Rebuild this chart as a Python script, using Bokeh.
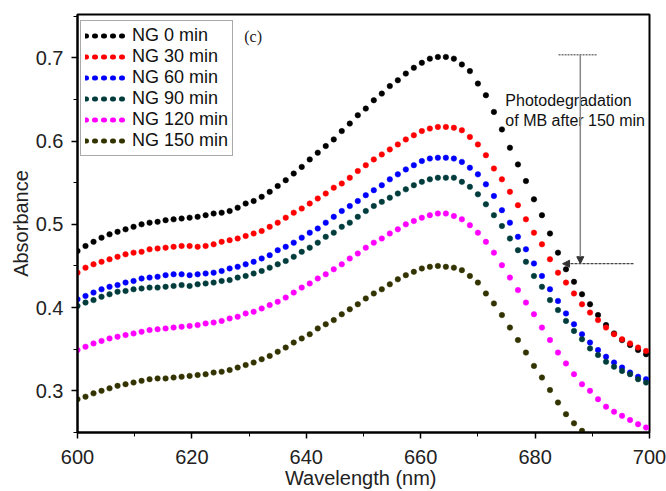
from bokeh.plotting import figure
from bokeh.models import Range1d, Legend, LegendItem, Label, Arrow, NormalHead, FixedTicker
from bokeh.embed import file_html
from bokeh.resources import INLINE

# ---------------- data ----------------
wavelength = [600.0, 601.4, 602.8, 604.2, 605.6, 607.0, 608.4, 609.8, 611.2, 612.6,
              614.0, 615.4, 616.8, 618.2, 619.6, 621.0, 622.4, 623.8, 625.2, 626.6,
              628.0, 629.4, 630.8, 632.2, 633.6, 635.0, 636.4, 637.8, 639.2, 640.6,
              642.0, 643.4, 644.8, 646.2, 647.6, 649.0, 650.4, 651.8, 653.2, 654.6,
              656.0, 657.4, 658.8, 660.2, 661.6, 663.0, 664.4, 665.8, 667.2, 668.6,
              670.0, 671.4, 672.8, 674.2, 675.6, 677.0, 678.4, 679.8, 681.2, 682.6,
              684.0, 685.4, 686.8, 688.2, 689.6, 691.0, 692.4, 693.8, 695.2, 696.6,
              698.0, 699.4]

ng_0 = [0.468, 0.474, 0.479, 0.484, 0.488, 0.491, 0.494, 0.497, 0.500, 0.502,
        0.503, 0.505, 0.506, 0.507, 0.508, 0.509, 0.511, 0.513, 0.514, 0.516,
        0.520, 0.525, 0.528, 0.533, 0.539, 0.546, 0.553, 0.561, 0.569, 0.578,
        0.586, 0.594, 0.602, 0.612, 0.621, 0.631, 0.639, 0.649, 0.657, 0.666,
        0.673, 0.681, 0.688, 0.694, 0.699, 0.701, 0.701, 0.699, 0.692, 0.684,
        0.669, 0.655, 0.635, 0.614, 0.592, 0.572, 0.552, 0.530, 0.511, 0.489,
        0.466, 0.446, 0.431, 0.416, 0.404, 0.391, 0.379, 0.369, 0.361, 0.355,
        0.349, 0.344]

ng_30 = [0.442, 0.448, 0.452, 0.455, 0.458, 0.461, 0.464, 0.466, 0.467, 0.470,
         0.471, 0.472, 0.473, 0.474, 0.474, 0.473, 0.474, 0.476, 0.479, 0.481,
         0.483, 0.486, 0.489, 0.492, 0.497, 0.502, 0.508, 0.514, 0.519, 0.525,
         0.531, 0.537, 0.544, 0.549, 0.556, 0.564, 0.571, 0.578, 0.584, 0.590,
         0.596, 0.602, 0.607, 0.612, 0.615, 0.617, 0.617, 0.616, 0.613, 0.605,
         0.596, 0.583, 0.567, 0.554, 0.539, 0.523, 0.506, 0.490, 0.476, 0.458,
         0.442, 0.430, 0.417, 0.404, 0.394, 0.385, 0.376, 0.368, 0.362, 0.357,
         0.352, 0.348]

ng_60 = [0.410, 0.414, 0.418, 0.422, 0.425, 0.427, 0.430, 0.432, 0.435, 0.436,
         0.437, 0.439, 0.440, 0.440, 0.439, 0.440, 0.441, 0.442, 0.444, 0.447,
         0.449, 0.452, 0.455, 0.459, 0.463, 0.469, 0.473, 0.478, 0.484, 0.490,
         0.495, 0.502, 0.509, 0.516, 0.522, 0.528, 0.535, 0.541, 0.547, 0.554,
         0.560, 0.566, 0.571, 0.576, 0.579, 0.580, 0.580, 0.579, 0.575, 0.568,
         0.560, 0.548, 0.534, 0.517, 0.502, 0.485, 0.470, 0.453, 0.438, 0.422,
         0.408, 0.393, 0.380, 0.368, 0.358, 0.349, 0.341, 0.334, 0.328, 0.322,
         0.317, 0.314]

ng_90 = [0.402, 0.406, 0.409, 0.413, 0.416, 0.419, 0.420, 0.422, 0.423, 0.424,
         0.424, 0.425, 0.426, 0.427, 0.426, 0.428, 0.429, 0.430, 0.432, 0.433,
         0.436, 0.438, 0.441, 0.444, 0.448, 0.452, 0.456, 0.461, 0.467, 0.472,
         0.478, 0.485, 0.490, 0.497, 0.502, 0.509, 0.516, 0.522, 0.527, 0.532,
         0.537, 0.542, 0.547, 0.551, 0.554, 0.556, 0.556, 0.556, 0.551, 0.545,
         0.536, 0.524, 0.511, 0.498, 0.483, 0.469, 0.455, 0.438, 0.425, 0.409,
         0.397, 0.384, 0.372, 0.362, 0.351, 0.343, 0.335, 0.329, 0.324, 0.320,
         0.314, 0.310]

ng_120 = [0.349, 0.353, 0.357, 0.360, 0.363, 0.365, 0.367, 0.369, 0.371, 0.373,
          0.374, 0.375, 0.376, 0.377, 0.378, 0.379, 0.381, 0.382, 0.384, 0.387,
          0.389, 0.393, 0.395, 0.399, 0.403, 0.407, 0.412, 0.418, 0.424, 0.429,
          0.435, 0.440, 0.446, 0.452, 0.459, 0.465, 0.472, 0.478, 0.483, 0.489,
          0.494, 0.500, 0.504, 0.508, 0.511, 0.513, 0.513, 0.510, 0.506, 0.499,
          0.490, 0.479, 0.466, 0.451, 0.436, 0.421, 0.406, 0.392, 0.376, 0.361,
          0.346, 0.333, 0.320, 0.308, 0.300, 0.290, 0.281, 0.275, 0.270, 0.265,
          0.260, 0.256]

ng_150 = [0.290, 0.293, 0.297, 0.300, 0.303, 0.306, 0.308, 0.310, 0.312, 0.314,
          0.315, 0.315, 0.316, 0.317, 0.318, 0.319, 0.320, 0.322, 0.323, 0.325,
          0.328, 0.331, 0.334, 0.338, 0.342, 0.347, 0.352, 0.358, 0.363, 0.368,
          0.375, 0.380, 0.385, 0.392, 0.398, 0.404, 0.411, 0.417, 0.422, 0.428,
          0.434, 0.439, 0.443, 0.447, 0.449, 0.450, 0.449, 0.448, 0.445, 0.438,
          0.430, 0.417, 0.405, 0.391, 0.376, 0.361, 0.346, 0.330, 0.316, 0.301,
          0.286, 0.272, 0.261, 0.252]

series = [ng_0, ng_30, ng_60, ng_90, ng_120, ng_150]
labels = ["NG 0 min", "NG 30 min", "NG 60 min", "NG 90 min", "NG 120 min", "NG 150 min"]
colors = ["#000000", "#ff0000", "#0000ff", "#003c3c", "#ff00ff", "#333300"]

x_ticks = [600, 620, 640, 660, 680, 700]
x_minor = [610, 630, 650, 670, 690]
y_ticks = [0.3, 0.4, 0.5, 0.6, 0.7]
y_minor = [0.25, 0.35, 0.45, 0.55, 0.65, 0.75]

FONT = "Liberation Sans"
TXT = "#222222"

p = figure(width=666, height=491, output_backend="svg", toolbar_location=None,
           x_range=Range1d(600, 700), y_range=Range1d(0.25, 0.752),
           min_border_left=77, min_border_right=17, min_border_top=14, min_border_bottom=59)
p.grid.visible = False
p.background_fill_color = "white"
p.border_fill_color = "white"
p.outline_line_color = "black"
p.outline_line_width = 2

for ax, ticks, minor in ((p.xaxis[0], x_ticks, x_minor), (p.yaxis[0], y_ticks, y_minor)):
    ax.ticker = FixedTicker(ticks=ticks, minor_ticks=minor)
    ax.axis_line_width = 2
    ax.axis_line_color = "black"
    ax.major_tick_line_color = "black"
    ax.minor_tick_line_color = "black"
    ax.major_tick_line_width = 1.5
    ax.major_tick_out = 6
    ax.major_tick_in = 0
    ax.minor_tick_out = 4
    ax.minor_tick_in = 0
    ax.major_label_text_font = FONT
    ax.major_label_text_font_size = "20px"
    ax.major_label_text_color = TXT
    ax.axis_label_text_font = FONT
    ax.axis_label_text_font_size = "20px"
    ax.axis_label_text_font_style = "normal"
    ax.axis_label_text_color = TXT

p.xaxis[0].axis_label = "Wavelength  (nm)"
p.yaxis[0].axis_label = "Absorbance"
p.xaxis[0].major_label_standoff = 11
p.xaxis[0].axis_label_standoff = 0
p.yaxis[0].major_label_standoff = 8
p.yaxis[0].axis_label_standoff = 1

# data dots
for vals, col in zip(series, colors):
    p.scatter(x=wavelength[:len(vals)], y=vals, size=5.5, marker="circle",
              fill_color=col, line_color=col, line_width=0.5)

# legend: dotted line samples (one-point lines: invisible in the plot, drawn in the legend)
items = []
for lab, col, vals in zip(labels, colors, series):
    r = p.line(x=wavelength[:1], y=vals[:1], line_color=col, line_width=5,
               line_dash="1 8", line_cap="round")
    items.append(LegendItem(label=lab, renderers=[r]))

legend = Legend(items=items, location=(3, 276), orientation="vertical",
                glyph_width=40, glyph_height=21, label_height=21, label_standoff=7,
                padding=4, spacing=0, margin=0,
                label_text_font=FONT, label_text_font_size="18px", label_text_color="#111111",
                border_line_color="#555555", border_line_width=1,
                background_fill_color="white", background_fill_alpha=1.0)
p.add_layout(legend, "center")

# panel letter
p.add_layout(Label(x=630.7, y=0.726, text="(c)", text_align="center", text_baseline="middle",
                   text_font="Liberation Serif", text_font_size="16px", text_color="#222222"))

# annotation text
p.add_layout(Label(x=674.8, y=0.6483, text="Photodegradation", text_align="left",
                   text_baseline="middle", text_font=FONT, text_font_size="16px",
                   text_color="#111111"))
p.add_layout(Label(x=674.8, y=0.6243, text="of MB after 150 min", text_align="left",
                   text_baseline="middle", text_font=FONT, text_font_size="16px",
                   text_color="#111111"))

# annotation arrows
p.add_layout(Arrow(x_start=684.1, y_start=0.7036, x_end=690.9, y_end=0.7036,
                   start=None, end=None, line_color="#777777", line_width=1.5, line_dash="2 1"))
p.add_layout(Arrow(x_start=687.9, y_start=0.7036, x_end=687.9, y_end=0.4527,
                   start=None, end=NormalHead(size=7, fill_color="#333333", line_color="#333333"),
                   line_color="#888888", line_width=1.5))
p.add_layout(Arrow(x_start=697.2, y_start=0.4527, x_end=684.8, y_end=0.4527,
                   start=None, end=NormalHead(size=7, fill_color="#333333", line_color="#333333"),
                   line_color="#444444", line_width=1.2, line_dash="3 1"))

open("out.html", "w").write(file_html(p, INLINE))
